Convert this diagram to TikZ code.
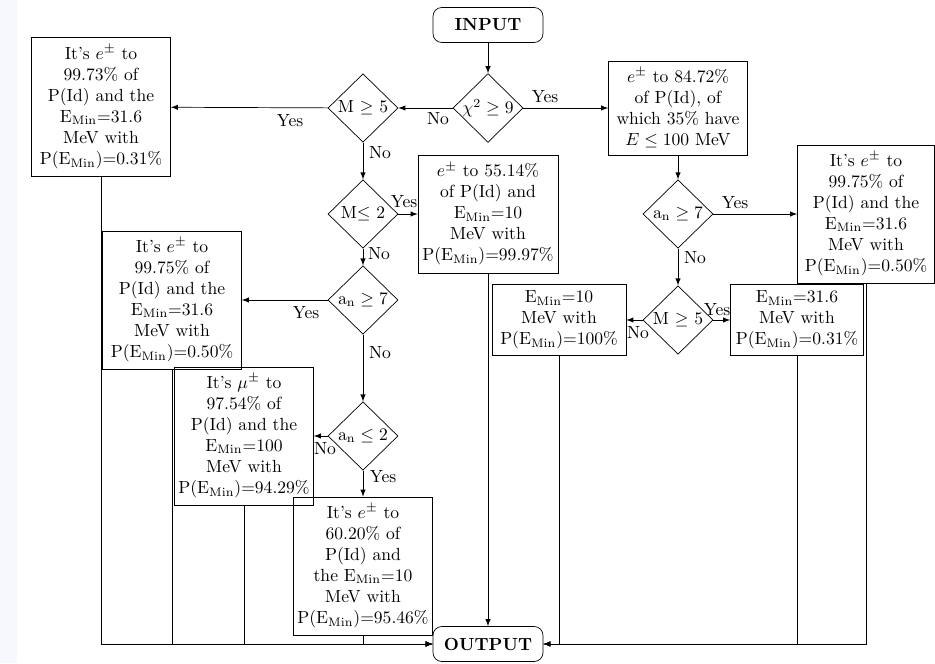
\documentclass[tikz,border=0pt]{standalone}
\usetikzlibrary{shapes.geometric}
\definecolor{stripbg}{RGB}{247,248,253}
\begin{document}
\begin{tikzpicture}[x=0.02cm, y=-0.02cm,
    block/.style={rectangle, draw, align=center, inner sep=2pt, minimum width=2.78cm},
    endbox/.style={rectangle, draw, rounded corners=5pt, minimum width=2.2cm, minimum height=0.7cm, font=\bfseries},
    choice/.style={diamond, draw, aspect=1, inner sep=0pt, minimum width=1.4cm, minimum height=1.37cm},
    lbl/.style={inner sep=0pt},
    arr/.style={->, >=latex}]
    \useasboundingbox (0,0) rectangle (935,663);
    \fill[stripbg] (0,0) rectangle (17,663);

    % Ingresso e prima scelta
    \node (in) at (488,25) [endbox] {INPUT};
    \node (chi) at (488,108) [choice] {$\chi^2 \geq 9$};

    % Ramo sinistro
    \node (mfive) at (363,108) [choice] {M $\geq$ 5};
    \node (mtwo) at (363,214) [choice] {M$\leq$ 2};
    \node (anseven) at (363,300) [choice] {$\mathrm{a_n} \geq 7$};
    \node (antwo) at (363,436) [choice] {$\mathrm{a_n} \leq 2$};
    \node (ela) at (101,107) [block, minimum height=2.78cm] {It's $e^{\pm}$ to\\99.73\% of\\P(Id) and the\\$\mathrm{E_{Min}}$=31.6\\MeV with\\P($\mathrm{E_{Min}}$)=0.31\%};
    \node (elb) at (172,300) [block, minimum height=2.76cm] {It's $e^{\pm}$ to\\99.75\% of\\P(Id) and the\\$\mathrm{E_{Min}}$=31.6\\MeV with\\P($\mathrm{E_{Min}}$)=0.50\%};
    \node (mu) at (244,436) [block, minimum height=2.76cm] {It's $\mu^{\pm}$ to\\97.54\% of\\P(Id) and the\\$\mathrm{E_{Min}}$=100\\MeV with\\P($\mathrm{E_{Min}}$)=94.29\%};
    \node (elc) at (363,566) [block, minimum height=2.76cm] {It's $e^{\pm}$ to\\60.20\% of\\P(Id) and\\the $\mathrm{E_{Min}}$=10\\MeV with\\P($\mathrm{E_{Min}}$)=95.46\%};
    \node (eld) at (488,214) [block, minimum width=2.8cm, minimum height=2.36cm] {$e^{\pm}$ to 55.14\%\\of P(Id) and\\$\mathrm{E_{Min}}$=10\\MeV with\\P($\mathrm{E_{Min}}$)=99.97\%};

    % Ramo destro
    \node (ere) at (678,108) [block, minimum height=1.88cm] {$e^{\pm}$ to 84.72\%\\of P(Id), of\\which 35\% have\\$E \leq 100$ MeV};
    \node (ansevenr) at (678,214) [choice] {$\mathrm{a_n} \geq 7$};
    \node (mfiver) at (678,320) [choice] {M $\geq$ 5};
    \node (erf) at (866,214) [block, minimum width=2.74cm, minimum height=2.76cm] {It's $e^{\pm}$ to\\99.75\% of\\P(Id) and the\\$\mathrm{E_{Min}}$=31.6\\MeV with\\P($\mathrm{E_{Min}}$)=0.50\%};
    \node (eminten) at (559,320) [block, minimum width=2.68cm, minimum height=1.42cm] {$\mathrm{E_{Min}}$=10\\MeV with\\P($\mathrm{E_{Min}}$)=100\%};
    \node (eminthirty) at (797,320) [block, minimum width=2.66cm, minimum height=1.42cm] {$\mathrm{E_{Min}}$=31.6\\MeV with\\P($\mathrm{E_{Min}}$)=0.31\%};

    % Uscita
    \node (out) at (488,644) [endbox] {OUTPUT};

    % Etichette
    \node (lnoa) at (438,119) [lbl] {No};
    \node (lyesa) at (545,97) [lbl] {Yes};
    \node (lyesb) at (290,121) [lbl] {Yes};
    \node (lnob) at (380,153) [lbl] {No};
    \node (lyesc) at (404,202) [lbl] {Yes};
    \node (lnoc) at (379,254) [lbl] {No};
    \node (lyesd) at (306,313) [lbl] {Yes};
    \node (lnod) at (380,353) [lbl] {No};
    \node (lnoe) at (325,449) [lbl] {No};
    \node (lyese) at (383,477) [lbl] {Yes};
    \node (lyesf) at (735,203) [lbl] {Yes};
    \node (lnof) at (695,258) [lbl] {No};
    \node (lnog) at (638,333) [lbl] {No};
    \node (lyesg) at (717,310) [lbl] {Yes};

    % Collegamenti
    \draw[arr] (in) -- (chi);
    \draw[arr] (chi) -- (mfive);
    \draw[arr] (chi) -- (ere);
    \draw[arr] (mfive) -- (ela);
    \draw[arr] (mfive) -- (mtwo);
    \draw[arr] (mtwo) -- (eld);
    \draw[arr] (mtwo) -- (anseven);
    \draw[arr] (anseven) -- (elb);
    \draw[arr] (anseven) -- (antwo);
    \draw[arr] (antwo) -- (mu);
    \draw[arr] (antwo) -- (elc);
    \draw[arr] (ere) -- (ansevenr);
    \draw[arr] (ansevenr) -- (erf);
    \draw[arr] (ansevenr) -- (mfiver);
    \draw[arr] (mfiver) -- (eminten);
    \draw[arr] (mfiver) -- (eminthirty);

    % Verso l'uscita
    \draw[arr] (ela) |- (out);
    \draw[arr] (elb) |- (out);
    \draw[arr] (mu) |- (out);
    \draw[arr] (elc) |- (out);
    \draw[arr] (eld) -- (out);
    \draw[arr] (eminten) |- (out);
    \draw[arr] (eminthirty) |- (out);
    \draw[arr] (erf) |- (out);
\end{tikzpicture}
\end{document}
